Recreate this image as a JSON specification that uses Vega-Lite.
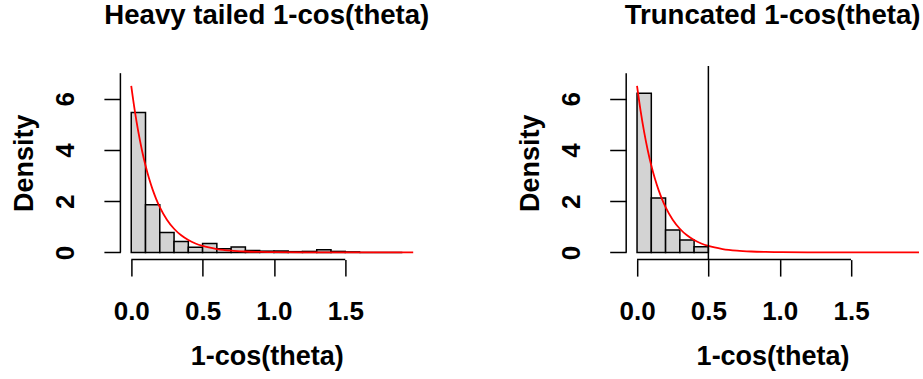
{
  "$schema": "https://vega.github.io/schema/vega-lite/v6.json",
  "padding": {"left": 9.4, "top": 1, "right": 0, "bottom": 0},
  "background": "white",
  "bounds": "flush",
  "spacing": 212.8,
  "config": {
    "view": {"stroke": null},
    "font": "Liberation Sans",
    "axis": {
      "grid": false,
      "domain": false,
      "tickColor": "black",
      "tickWidth": 1.5,
      "tickSize": 16.5,
      "labelColor": "black",
      "labelFont": "Liberation Sans",
      "labelFontSize": 26,
      "labelFontWeight": "bold",
      "titleColor": "black",
      "titleFont": "Liberation Sans",
      "titleFontSize": 27,
      "titleFontWeight": "bold",
      "labelBound": false,
      "labelOverlap": false
    }
  },
  "datasets": {
    "heavy": [
      {"x0": 0.0, "x1": 0.1, "density": 5.46},
      {"x0": 0.1, "x1": 0.2, "density": 1.86},
      {"x0": 0.2, "x1": 0.3, "density": 0.78},
      {"x0": 0.3, "x1": 0.4, "density": 0.43},
      {"x0": 0.4, "x1": 0.5, "density": 0.20},
      {"x0": 0.5, "x1": 0.6, "density": 0.35},
      {"x0": 0.6, "x1": 0.7, "density": 0.14},
      {"x0": 0.7, "x1": 0.8, "density": 0.21},
      {"x0": 0.8, "x1": 0.9, "density": 0.08},
      {"x0": 0.9, "x1": 1.0, "density": 0.05},
      {"x0": 1.0, "x1": 1.1, "density": 0.06},
      {"x0": 1.1, "x1": 1.2, "density": 0.03},
      {"x0": 1.2, "x1": 1.3, "density": 0.04},
      {"x0": 1.3, "x1": 1.4, "density": 0.10},
      {"x0": 1.4, "x1": 1.5, "density": 0.04},
      {"x0": 1.5, "x1": 1.6, "density": 0.02},
      {"x0": 1.6, "x1": 1.7, "density": 0.0},
      {"x0": 1.7, "x1": 1.8, "density": 0.0},
      {"x0": 1.8, "x1": 1.9, "density": 0.0}
    ],
    "trunc": [
      {"x0": 0.0, "x1": 0.1, "density": 6.22},
      {"x0": 0.1, "x1": 0.2, "density": 2.13},
      {"x0": 0.2, "x1": 0.3, "density": 0.88},
      {"x0": 0.3, "x1": 0.4, "density": 0.49},
      {"x0": 0.4, "x1": 0.5, "density": 0.22}
    ],
    "curve": [
      {"x": 0.0, "y": 6.5},
      {"x": 0.025, "y": 5.525},
      {"x": 0.05, "y": 4.696},
      {"x": 0.075, "y": 3.992},
      {"x": 0.1, "y": 3.393},
      {"x": 0.125, "y": 2.884},
      {"x": 0.15, "y": 2.452},
      {"x": 0.175, "y": 2.084},
      {"x": 0.2, "y": 1.771},
      {"x": 0.25, "y": 1.28},
      {"x": 0.3, "y": 0.925},
      {"x": 0.35, "y": 0.668},
      {"x": 0.4, "y": 0.483},
      {"x": 0.45, "y": 0.349},
      {"x": 0.5, "y": 0.252},
      {"x": 0.6, "y": 0.132},
      {"x": 0.7, "y": 0.0687},
      {"x": 0.8, "y": 0.0359},
      {"x": 0.9, "y": 0.0187},
      {"x": 1.0, "y": 0.0098},
      {"x": 1.2, "y": 0.0027},
      {"x": 1.5, "y": 0.0004},
      {"x": 2.0, "y": 0.0}
    ],
    "xaxisline": [{"x": 0, "x2": 1.5, "y": -0.28}],
    "yaxisline": [{"x": -0.076, "y": 0, "y2": 7}],
    "cut": [{"x": 0.5}]
  },
  "hconcat": [
    {
      "width": 292.8,
      "height": 193.6,
      "title": {"text": "Heavy tailed 1-cos(theta)", "fontSize": 27.6, "fontWeight": "bold", "font": "Liberation Sans", "color": "black", "anchor": "middle", "frame": "group", "baseline": "alphabetic", "offset": 14},
      "layer": [
        {
          "data": {"name": "heavy"},
          "mark": {"type": "rect", "fill": "#D3D3D3", "stroke": "black", "strokeWidth": 1.5},
          "encoding": {
            "x": {"field": "x0", "type": "quantitative", "scale": {"domain": [-0.076, 1.976], "nice": false, "zero": false},
                  "axis": {"values": [0, 0.5, 1, 1.5], "format": ".1f", "labelBaseline": "alphabetic", "labelPadding": 43, "title": "1-cos(theta)", "titleY": 105, "titleBaseline": "alphabetic", "titleAnchor": "middle"}},
            "x2": {"field": "x1"},
            "y": {"field": "density", "type": "quantitative", "scale": {"domain": [-0.28, 7.28], "nice": false, "zero": false},
                  "axis": {"values": [0, 1, 2, 3, 4, 5, 6, 7], "format": "d", "labelExpr": "datum.value % 2 == 0 ? datum.label : ''", "labelAngle": -90, "labelAlign": "center", "labelBaseline": "alphabetic", "labelPadding": 30, "title": "Density", "titleAngle": -90, "titleX": -88, "titleY": 96.8, "titleAlign": "center", "titleBaseline": "alphabetic"}},
            "y2": {"datum": 0}
          }
        },
        {
          "data": {"name": "curve"},
          "mark": {"type": "line", "color": "#FF0000", "strokeWidth": 1.8, "clip": true, "interpolate": "monotone"},
          "encoding": {
            "x": {"field": "x", "type": "quantitative"},
            "y": {"field": "y", "type": "quantitative"}
          }
        },
        {
          "data": {"name": "xaxisline"},
          "mark": {"type": "rule", "color": "black", "strokeWidth": 1.5},
          "encoding": {
            "x": {"field": "x", "type": "quantitative"},
            "x2": {"field": "x2"},
            "y": {"field": "y", "type": "quantitative"}
          }
        },
        {
          "data": {"name": "yaxisline"},
          "mark": {"type": "rule", "color": "black", "strokeWidth": 1.5},
          "encoding": {
            "x": {"field": "x", "type": "quantitative"},
            "y": {"field": "y", "type": "quantitative"},
            "y2": {"field": "y2"}
          }
        }
      ]
    },
    {
      "width": 292.8,
      "height": 193.6,
      "title": {"text": "Truncated 1-cos(theta)", "fontSize": 27.6, "fontWeight": "bold", "font": "Liberation Sans", "color": "black", "anchor": "middle", "frame": "group", "baseline": "alphabetic", "offset": 14},
      "layer": [
        {
          "data": {"name": "trunc"},
          "mark": {"type": "rect", "fill": "#D3D3D3", "stroke": "black", "strokeWidth": 1.5},
          "encoding": {
            "x": {"field": "x0", "type": "quantitative", "scale": {"domain": [-0.076, 1.976], "nice": false, "zero": false},
                  "axis": {"values": [0, 0.5, 1, 1.5], "format": ".1f", "labelBaseline": "alphabetic", "labelPadding": 43, "title": "1-cos(theta)", "titleY": 105, "titleBaseline": "alphabetic", "titleAnchor": "middle"}},
            "x2": {"field": "x1"},
            "y": {"field": "density", "type": "quantitative", "scale": {"domain": [-0.28, 7.28], "nice": false, "zero": false},
                  "axis": {"values": [0, 1, 2, 3, 4, 5, 6, 7], "format": "d", "labelExpr": "datum.value % 2 == 0 ? datum.label : ''", "labelAngle": -90, "labelAlign": "center", "labelBaseline": "alphabetic", "labelPadding": 30, "title": "Density", "titleAngle": -90, "titleX": -88, "titleY": 96.8, "titleAlign": "center", "titleBaseline": "alphabetic"}},
            "y2": {"datum": 0}
          }
        },
        {
          "data": {"name": "curve"},
          "mark": {"type": "line", "color": "#FF0000", "strokeWidth": 1.8, "clip": true, "interpolate": "monotone"},
          "encoding": {
            "x": {"field": "x", "type": "quantitative"},
            "y": {"field": "y", "type": "quantitative"}
          }
        },
        {
          "data": {"name": "cut"},
          "mark": {"type": "rule", "color": "black", "strokeWidth": 1.5},
          "encoding": {
            "x": {"field": "x", "type": "quantitative"}
          }
        },
        {
          "data": {"name": "xaxisline"},
          "mark": {"type": "rule", "color": "black", "strokeWidth": 1.5},
          "encoding": {
            "x": {"field": "x", "type": "quantitative"},
            "x2": {"field": "x2"},
            "y": {"field": "y", "type": "quantitative"}
          }
        },
        {
          "data": {"name": "yaxisline"},
          "mark": {"type": "rule", "color": "black", "strokeWidth": 1.5},
          "encoding": {
            "x": {"field": "x", "type": "quantitative"},
            "y": {"field": "y", "type": "quantitative"},
            "y2": {"field": "y2"}
          }
        }
      ]
    }
  ]
}
